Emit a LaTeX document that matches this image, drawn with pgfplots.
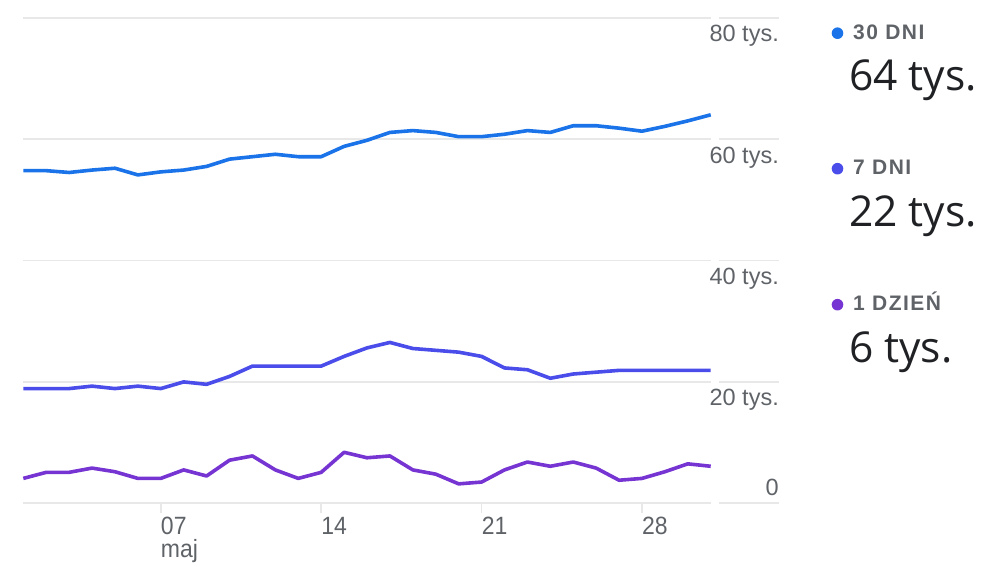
\documentclass[border=0pt]{standalone}
\usepackage{fontspec}
\setmainfont{Liberation Sans}
\newfontfamily\valfont{Open Sans}
\newfontfamily\tickfont[FakeStretch=0.92]{Liberation Sans}
\newfontfamily\headfont[LetterSpace=7]{Liberation Sans}
\usepackage{pgfplots}
\pgfplotsset{compat=1.18}
\definecolor{cthirty}{HTML}{1A73E8}
\definecolor{cseven}{HTML}{4A4DEA}
\definecolor{cone}{HTML}{7634D2}
\definecolor{gridc}{HTML}{E8E8E8}
\definecolor{labc}{HTML}{5F6368}
\definecolor{valc}{HTML}{202124}
\begin{document}
\begin{tikzpicture}
\path[use as bounding box] (0,0) rectangle (1005pt,578pt);
\begin{axis}[
  at={(23.3pt,74.7pt)}, anchor=south west,
  scale only axis, width=755.7pt, height=485.6pt,
  xmin=1, xmax=33.98, ymin=0, ymax=80,
  axis line style={draw=none},
  clip=false,
  ytick={20,40,60,80},
  yticklabels={20 tys.,40 tys.,60 tys.,80 tys.},
  yticklabel pos=right,
  ytick style={draw=none},
  ymajorgrids,
  grid style={color=gridc, line width=1.8pt},
  yticklabel style={anchor=north east, inner xsep=0pt, inner ysep=7.3pt, xshift=-10pt,
    font=\fontsize{23.5}{26}\selectfont, text=labc},
  extra y ticks={0},
  extra y tick labels={0},
  extra y tick style={ymajorgrids=true, tick style={draw=none},
    yticklabel style={anchor=south east}},
  xtick={7,14,21,28},
  xticklabels={{07\\maj},14,21,28},
  xtick pos=bottom,
  tick align=outside,
  major tick length=10pt,
  xtick style={color=gridc, line width=1.5pt},
  xticklabel style={anchor=north west, align=left, inner sep=0pt, yshift=-4pt,
    font=\tickfont\fontsize{25}{23}\selectfont, text=labc},
]
\addplot[cthirty, line width=3.6pt, line join=round] coordinates {
(1,54.8)(2,54.8)(3,54.5)(4,54.9)(5,55.2)(6,54.1)(7,54.6)(8,54.9)(9,55.5)(10,56.7)
(11,57.1)(12,57.5)(13,57.1)(14,57.1)(15,58.8)(16,59.8)(17,61.1)(18,61.4)(19,61.1)(20,60.4)
(21,60.4)(22,60.8)(23,61.4)(24,61.1)(25,62.2)(26,62.2)(27,61.8)(28,61.3)(29,62.1)(30,63.0)(31,64.0)};
\addplot[cseven, line width=3.6pt, line join=round] coordinates {
(1,18.9)(2,18.9)(3,18.9)(4,19.3)(5,18.9)(6,19.3)(7,18.9)(8,20.0)(9,19.6)(10,20.9)
(11,22.6)(12,22.6)(13,22.6)(14,22.6)(15,24.2)(16,25.6)(17,26.5)(18,25.5)(19,25.2)(20,24.9)
(21,24.2)(22,22.3)(23,22.0)(24,20.6)(25,21.3)(26,21.6)(27,21.9)(28,21.9)(29,21.9)(30,21.9)(31,21.9)};
\addplot[cone, line width=3.6pt, line join=round] coordinates {
(1,4.1)(2,5.1)(3,5.1)(4,5.8)(5,5.2)(6,4.1)(7,4.1)(8,5.5)(9,4.5)(10,7.1)
(11,7.8)(12,5.5)(13,4.1)(14,5.1)(15,8.4)(16,7.5)(17,7.8)(18,5.5)(19,4.8)(20,3.2)
(21,3.5)(22,5.5)(23,6.8)(24,6.1)(25,6.8)(26,5.8)(27,3.8)(28,4.1)(29,5.2)(30,6.5)(31,6.1)};
\foreach \g in {0,20,40,60,80} {
  \edef\temp{\noexpand\draw[white, line width=2.6pt] (axis cs:31.02,\g) -- (axis cs:31.375,\g);}
  \temp
}
\end{axis}
% legend
\fill[cthirty] (837.5pt,544.8pt) circle (5.8pt);
\fill[cseven] (837.5pt,409.3pt) circle (5.8pt);
\fill[cone] (837.5pt,273.3pt) circle (5.8pt);
\node[anchor=base west, inner sep=0pt, text=labc, font=\headfont\bfseries\fontsize{21}{24}\selectfont] at (853pt,538pt) {30 DNI};
\node[anchor=base west, inner sep=0pt, text=labc, font=\headfont\bfseries\fontsize{21}{24}\selectfont] at (853pt,403pt) {7 DNI};
\node[anchor=base west, inner sep=0pt, text=labc, font=\headfont\bfseries\fontsize{21}{24}\selectfont] at (853pt,267pt) {1 DZIEŃ};
\node[anchor=base west, inner sep=0pt, text=valc, font=\valfont\fontsize{42.5}{46}\selectfont] at (849pt,487.3pt) {64 tys.};
\node[anchor=base west, inner sep=0pt, text=valc, font=\valfont\fontsize{42.5}{46}\selectfont] at (849pt,351.3pt) {22 tys.};
\node[anchor=base west, inner sep=0pt, text=valc, font=\valfont\fontsize{42.5}{46}\selectfont] at (849pt,215.3pt) {6 tys.};
\end{tikzpicture}
\end{document}
